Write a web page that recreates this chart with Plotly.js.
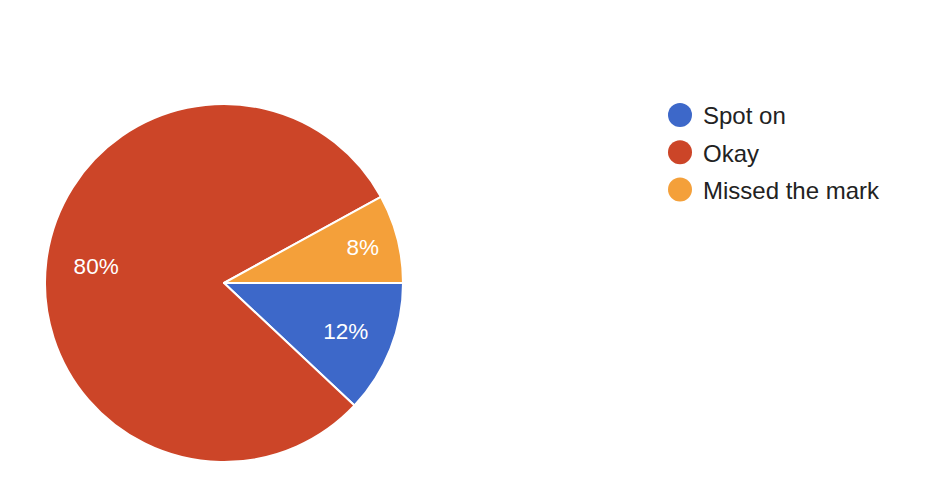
<!DOCTYPE html>
<html><head><meta charset="utf-8">
<script src="https://cdn.plot.ly/plotly-3.0.1.min.js"></script>
<style>html,body{margin:0;padding:0;background:#fff}</style>
</head><body>
<div id="chart" style="width:926px;height:502px"></div>
<script>
const categories = ["Spot on", "Okay", "Missed the mark"];
const values = [12, 80, 8];
const colors = ["#3d68c9", "#cc4528", "#f4a03a"];

const pieDomain = {x: [45/926, 403/926], y: [40/502, 398/502]};
const traces = [{
  type: "pie",
  labels: categories,
  values: values,
  sort: false,
  direction: "clockwise",
  rotation: 90,
  marker: {colors: colors, line: {color: "#ffffff", width: 2}},
  textinfo: "none",
  hoverinfo: "label+percent",
  showlegend: false,
  domain: pieDomain
}, {
  // transparent ring used only to place the percentage labels further out
  type: "pie",
  labels: categories,
  values: values,
  sort: false,
  direction: "clockwise",
  rotation: 90,
  hole: 0.44,
  marker: {colors: ["rgba(0,0,0,0)", "rgba(0,0,0,0)", "rgba(0,0,0,0)"], line: {width: 0}},
  textinfo: "percent",
  textposition: "inside",
  insidetextorientation: "horizontal",
  texttemplate: "%{percent:.0%}",
  textfont: {family: "Liberation Sans, Arial, sans-serif", size: 22.5, color: "#ffffff"},
  hoverinfo: "skip",
  showlegend: false,
  domain: pieDomain
}];
categories.forEach((c, i) => {
  traces.push({
    type: "scatter", mode: "markers", x: [null], y: [null],
    name: c, legendgroup: "g" + i,
    marker: {color: colors[i], size: 16, symbol: "circle"},
    showlegend: true, hoverinfo: "skip"
  });
});

Plotly.newPlot("chart", traces, {
  width: 926, height: 502,
  margin: {l: 0, r: 0, t: 0, b: 0},
  paper_bgcolor: "#fff", plot_bgcolor: "#fff",
  xaxis: {visible: false}, yaxis: {visible: false},
  showlegend: true,
  legend: {
    x: 660/926, y: 1 - 93/502, xanchor: "left", yanchor: "top",
    font: {family: "Liberation Sans, Arial, sans-serif", size: 24, color: "#222222"},
    tracegroupgap: 3, itemsizing: "trace", bgcolor: "rgba(0,0,0,0)"
  }
}, {displayModeBar: false, staticPlot: true}).then(function (gd) {
  // enlarge legend circles to match the reference's bigger dots
  gd.querySelectorAll(".legend .legendpoints path.scatterpts").forEach(function (p) {
    const t = p.getAttribute("transform") || "";
    p.setAttribute("transform", t + " scale(1.5)");
  });
  // nudge legend text slightly right for the larger dots
  gd.querySelectorAll(".legend text.legendtext").forEach(function (t) {
    t.setAttribute("x", String(parseFloat(t.getAttribute("x") || "0") + 3));
  });
});
</script>
</body></html>
